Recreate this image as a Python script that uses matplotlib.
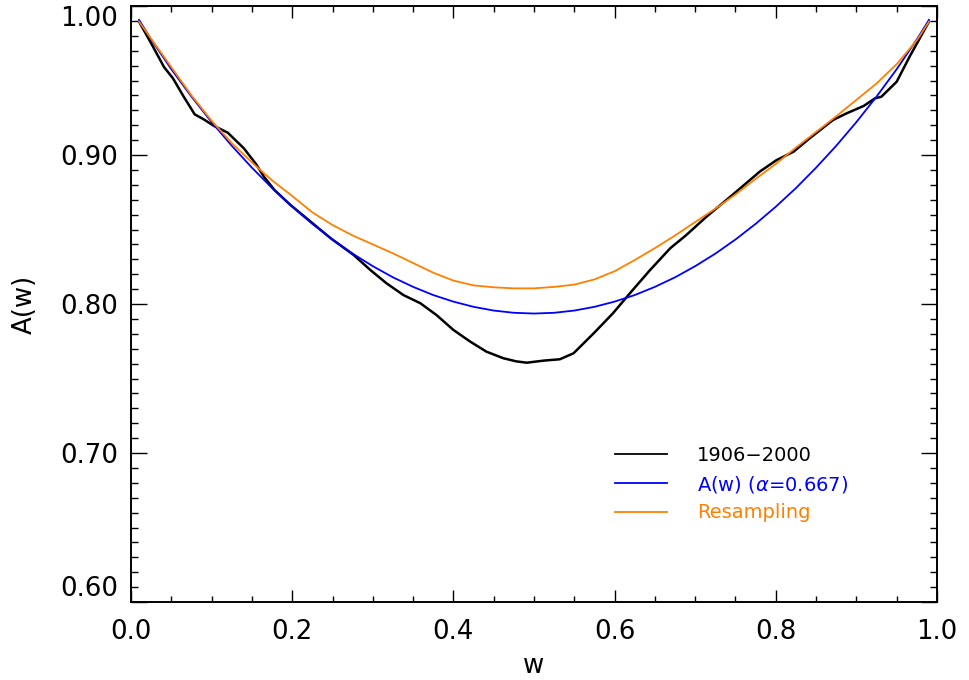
import numpy as np
import matplotlib
matplotlib.use("Agg")
import matplotlib.pyplot as plt
from matplotlib.ticker import MultipleLocator

w_obs = [0.010, 0.025, 0.041, 0.052, 0.065, 0.079, 0.090, 0.103, 0.120, 0.140,
         0.155, 0.165, 0.178, 0.198, 0.223, 0.248, 0.276, 0.297, 0.317, 0.338,
         0.359, 0.379, 0.400, 0.421, 0.441, 0.462, 0.478, 0.491, 0.512, 0.532,
         0.549, 0.574, 0.598, 0.619, 0.644, 0.669, 0.689, 0.714, 0.751, 0.780,
         0.801, 0.822, 0.842, 0.871, 0.888, 0.909, 0.923, 0.931, 0.950, 0.966,
         0.990]
a_obs = [0.9895, 0.975, 0.959, 0.9515, 0.9395, 0.9273, 0.924, 0.9195, 0.915, 0.9045,
         0.894, 0.8854, 0.8765, 0.8664, 0.8552, 0.844, 0.833, 0.8228, 0.8139, 0.806,
         0.8005, 0.7926, 0.7826, 0.7747, 0.768, 0.7636, 0.7615, 0.7606, 0.762, 0.7629,
         0.7669, 0.7803, 0.7938, 0.8072, 0.8228, 0.8374, 0.8463, 0.8586, 0.8754, 0.8888,
         0.8966, 0.9022, 0.9112, 0.9235, 0.928, 0.9329, 0.938, 0.9391, 0.9492, 0.966,
         0.9895]

# fitted curve and resampling curve, same w grid
w_grid = [0.010, 0.025, 0.050, 0.075, 0.100, 0.125, 0.150, 0.175, 0.200, 0.225,
          0.250, 0.275, 0.300, 0.325, 0.350, 0.375, 0.400, 0.425, 0.450, 0.475,
          0.500, 0.525, 0.550, 0.575, 0.600, 0.625, 0.650, 0.675, 0.700, 0.725,
          0.750, 0.775, 0.800, 0.825, 0.850, 0.875, 0.900, 0.925, 0.950, 0.975,
          0.990]
a_fit = [0.9907, 0.9776, 0.9576, 0.9392, 0.9221, 0.9062, 0.8915, 0.8778, 0.8653, 0.8538,
         0.8433, 0.8338, 0.8254, 0.8179, 0.8115, 0.8060, 0.8016, 0.7981, 0.7956, 0.7941,
         0.7936, 0.7941, 0.7956, 0.7981, 0.8016, 0.8060, 0.8115, 0.8179, 0.8254, 0.8338,
         0.8433, 0.8538, 0.8653, 0.8778, 0.8915, 0.9062, 0.9221, 0.9392, 0.9576, 0.9776,
         0.9907]
a_resamp = [0.9895, 0.978, 0.959, 0.940, 0.923, 0.908, 0.895, 0.883, 0.8725, 0.8615,
            0.853, 0.846, 0.840, 0.834, 0.8275, 0.821, 0.8157, 0.8125, 0.8112, 0.8105,
            0.8105, 0.8115, 0.813, 0.8165, 0.822, 0.8295, 0.8375, 0.846, 0.855, 0.864,
            0.8735, 0.884, 0.894, 0.905, 0.9155, 0.926, 0.937, 0.948, 0.961, 0.977,
            0.9895]

labels = ["1906\u22122000", r"A(w) ($\alpha$=0.667)", "Resampling"]
colors = ["black", "#0000ff", "#ff8000"]

xticks = [0.0, 0.2, 0.4, 0.6, 0.8, 1.0]
xticklabels = ["0.0", "0.2", "0.4", "0.6", "0.8", "1.0"]
yticks = [0.6, 0.7, 0.8, 0.9, 1.0]
yticklabels = ["0.60", "0.70", "0.80", "0.90", "1.00"]

fig = plt.figure(figsize=(9.7, 6.8), dpi=100)
ax = fig.add_axes([131/970, 78/680, 806/970, 596/680])

ax.plot(w_obs, a_obs, color=colors[0], lw=1.8, label=labels[0])
ax.plot(w_grid, a_fit, color=colors[1], lw=1.3, label=labels[1])
ax.plot(w_grid, a_resamp, color=colors[2], lw=1.3, label=labels[2])

ax.set_xlim(0, 1)
ax.set_ylim(0.6, 1.0)
ax.set_xticks(xticks, xticklabels)
ax.set_yticks(yticks, yticklabels)
ax.xaxis.set_minor_locator(MultipleLocator(0.05))
ax.yaxis.set_minor_locator(MultipleLocator(0.01))

for s in ax.spines.values():
    s.set_linewidth(1.4)
ax.tick_params(which='both', direction='in', top=True, right=True, width=1.0,
               labelsize=18.7)
ax.tick_params(axis='x', which='major', length=8.5, pad=12)
ax.tick_params(axis='x', which='minor', length=4.3)
ax.tick_params(axis='y', which='major', length=11.5, pad=9.4)
ax.tick_params(axis='y', which='minor', length=5.2)

# IDL style: end labels pulled inside the axis range
ylabs = ax.get_yticklabels()
ylabs[0].set_va('bottom')
ylabs[-1].set_va('top')

ax.set_xlabel("w", fontsize=18.7, va='center')
ax.xaxis.set_label_coords(0.5, -0.108)
ax.set_ylabel("A(w)", fontsize=18.7, va='center')
ax.yaxis.set_label_coords(-0.132, 0.5)

leg = ax.legend(loc='upper left', bbox_to_anchor=(615/970, 1 - 446/680),
                bbox_transform=fig.transFigure, frameon=False, fontsize=14,
                handlelength=2.7, handletextpad=1.5, labelspacing=0.45,
                borderpad=0, borderaxespad=0, labelcolor='linecolor')
for h in leg.get_lines():
    h.set_linewidth(1.3)

fig.savefig("out.png", dpi=100)
